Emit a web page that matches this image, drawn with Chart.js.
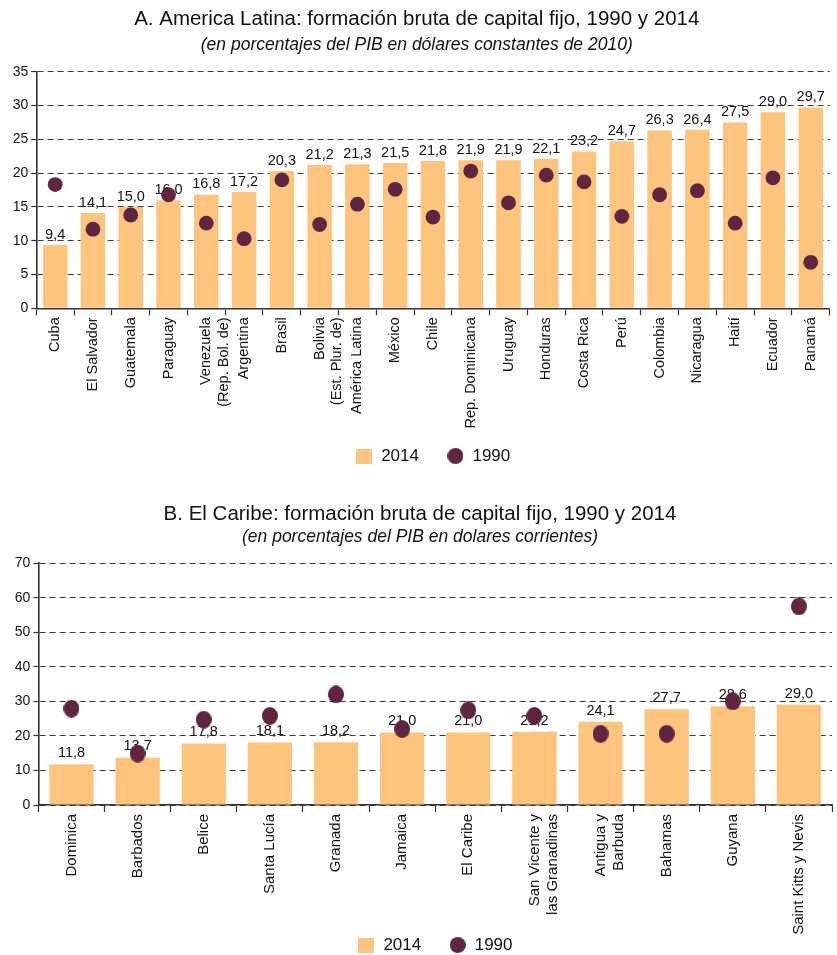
<!DOCTYPE html>
<html><head><meta charset="utf-8">
<script src="https://cdn.jsdelivr.net/npm/chart.js@4.4.1/dist/chart.umd.min.js"></script>
<style>
html,body{margin:0;padding:0;background:#fff;overflow:hidden;width:837px;height:955px;}
#wrapA{position:absolute;left:0;top:0;width:837px;height:480px;}
#wrapB{position:absolute;left:0;top:480px;width:841px;height:484px;}
canvas{display:block;}
</style></head><body>
<div id="wrapA"><canvas id="chartA" width="837" height="480"></canvas></div>
<div id="wrapB"><canvas id="chartB" width="841" height="484"></canvas></div>
<script>
// ---------- Data ----------
const latamCategories = ['Cuba','El Salvador','Guatemala','Paraguay',['Venezuela','(Rep. Bol. de)'],'Argentina','Brasil',['Bolivia','(Est. Plur. de)'],'América Latina','México','Chile','Rep. Dominicana','Uruguay','Honduras','Costa Rica','Perú','Colombia','Nicaragua','Haití','Ecuador','Panamá'];
const latam2014 = [9.4,14.1,15.0,16.0,16.8,17.2,20.3,21.2,21.3,21.5,21.8,21.9,21.9,22.1,23.2,24.7,26.3,26.4,27.5,29.0,29.7];
const latam1990 = [18.3,11.7,13.8,16.8,12.6,10.3,19.0,12.4,15.4,17.6,13.5,20.3,15.6,19.7,18.7,13.6,16.8,17.4,12.6,19.3,6.8];
const latamYTicks = [0,5,10,15,20,25,30,35];

const caribCategories = ['Dominica','Barbados','Belice','Santa Lucía','Granada','Jamaica','El Caribe',['San Vicente y','las Granadinas'],['Antigua y','Barbuda'],'Bahamas','Guyana','Saint Kitts y Nevis'];
const carib2014 = [11.8,13.7,17.8,18.1,18.2,21.0,21.0,21.2,24.1,27.7,28.6,29.0];
const carib1990 = [27.9,14.9,24.7,25.8,32.0,22.0,27.4,25.8,20.6,20.6,30.0,57.5];
const caribYTicks = [0,10,20,30,40,50,60,70];

const seriesNames = ['2014','1990'];

// ---------- Style ----------
const FONT = '"Liberation Sans", Arial, Helvetica, sans-serif';
const BAR_COLOR = '#FDC47D';
const DOT_COLOR = '#5F2541';
const TEXT = '#111111';
const AXIS = '#333333';

function fmt(v){ return v.toFixed(1).replace('.', ','); }

function ellipseImg(w,h,color){
  const c=document.createElement('canvas'); c.width=w; c.height=h;
  const x=c.getContext('2d'); x.fillStyle=color; x.beginPath();
  x.ellipse(w/2,h/2,w/2,h/2,0,0,Math.PI*2); x.fill(); return c;
}
function rectImg(w,h,color){
  const c=document.createElement('canvas'); c.width=w; c.height=h;
  const x=c.getContext('2d'); x.fillStyle=color; x.fillRect(0,0,w,h); return c;
}
const legendRect = rectImg(16,15,BAR_COLOR);
const legendDot = ellipseImg(16,16,DOT_COLOR);

const barLabels = {
  id:'barLabels',
  afterDatasetDraw(chart, args, opts){
    if (args.index !== 0) return;
    const ctx = chart.ctx;
    ctx.save();
    ctx.font = opts.size + 'px ' + FONT;
    ctx.fillStyle = TEXT;
    ctx.textAlign = 'center';
    ctx.textBaseline = 'bottom';
    const data = chart.data.datasets[0].data;
    args.meta.data.forEach((bar,i)=>{
      ctx.fillText(fmt(data[i]), bar.x, bar.y - opts.offset);
    });
    ctx.restore();
  }
};

function makeChart(id, cfg){
  const yTicks = cfg.yTicks;
  return new Chart(document.getElementById(id), {
    data: {
      labels: cfg.categories,
      datasets: [
        { type:'bar', label:seriesNames[0], data:cfg.bars, backgroundColor:BAR_COLOR,
          barPercentage:cfg.barPct, categoryPercentage:1, order:2 },
        { type:'line', label:seriesNames[1], data:cfg.dots, showLine:false,
          pointStyle:cfg.pointStyle, pointRadius:cfg.pointRadius, pointHoverRadius:cfg.pointRadius,
          pointBackgroundColor:DOT_COLOR, pointBorderWidth:0, order:1 }
      ]
    },
    plugins:[barLabels],
    options: {
      responsive:false, animation:false, events:[],
      layout:{ padding:{ left:0, right:cfg.padRight, top:0, bottom:cfg.padBottom } },
      plugins: {
        tooltip:{enabled:false},
        barLabels:{ size:14.5, offset:cfg.labelOffset },
        title:{ display:true, text:cfg.title, color:TEXT,
          font:{family:FONT, size:20.5, weight:'normal', lineHeight:1.15}, padding:{top:cfg.titleTop, bottom:cfg.titleBottom} },
        subtitle:{ display:true, text:cfg.subtitle, color:TEXT,
          font:{family:FONT, size:17.5, style:'italic', weight:'normal', lineHeight:1.15}, padding:{top:0, bottom:cfg.subBottom} },
        legend:{ display:true, position:'bottom', fullSize:false,
          labels:{ usePointStyle:true, color:TEXT, padding:28,
            font:{family:FONT, size:17},
            generateLabels(){ return [
              {text:seriesNames[0], pointStyle:legendRect, fillStyle:BAR_COLOR, strokeStyle:'rgba(0,0,0,0)', lineWidth:0, hidden:false, datasetIndex:0, fontColor:TEXT},
              {text:seriesNames[1], pointStyle:legendDot, fillStyle:DOT_COLOR, strokeStyle:'rgba(0,0,0,0)', lineWidth:0, hidden:false, datasetIndex:1, fontColor:TEXT}
            ]; } } }
      },
      scales: {
        x: {
          offset:true,
          grid:{ display:true, offset:true, drawOnChartArea:false, drawTicks:true, tickLength:7, tickColor:AXIS, tickWidth:1.2, color:AXIS },
          border:{ display:true, color:AXIS, width:1.6 },
          ticks:{ autoSkip:false, maxRotation:90, minRotation:90, padding:2, color:TEXT, font:{family:FONT, size:cfg.xFont} },
          afterFit(s){ s.height = cfg.xAxisH; s._computeLabelArea = function(){ return undefined; }; }
        },
        y: {
          min:yTicks[0], max:yTicks[yTicks.length-1],
          ticks:{ stepSize:yTicks[1]-yTicks[0], padding:3, color:TEXT, font:{family:FONT, size:14} },
          grid:{ display:true, drawOnChartArea:true, drawTicks:true, tickLength:5, color:'#3a3a3a', lineWidth:1, tickColor:AXIS, tickWidth:1.2, tickBorderDash:[] },
          border:{ display:true, color:AXIS, width:1.6, dash:[6,4] },
          afterFit(s){ s.width = cfg.yAxisW; }
        }
      }
    }
  });
}

makeChart('chartA', {
  categories: latamCategories, bars: latam2014, dots: latam1990, yTicks: latamYTicks,
  title:'A. America Latina: formación bruta de capital fijo, 1990 y 2014',
  subtitle:'(en porcentajes del PIB en dólares constantes de 2010)',
  barPct:0.65, pointStyle:'circle', pointRadius:7.4, labelOffset:3, xFont:14.5,
  padRight:3.5, padBottom:5.5, xAxisH:111.2, yAxisW:36.3,
  titleTop:8, titleBottom:3, subBottom:17
});

makeChart('chartB', {
  categories: caribCategories, bars: carib2014, dots: carib1990, yTicks: caribYTicks,
  title:'B. El Caribe: formación bruta de capital fijo, 1990 y 2014',
  subtitle:'(en porcentajes del PIB en dolares corrientes)',
  barPct:0.67, pointStyle:ellipseImg(16,18,DOT_COLOR), pointRadius:9, labelOffset:4, xFont:15,
  padRight:1, padBottom:0.5, xAxisH:103.5, yAxisW:38.4,
  titleTop:23, titleBottom:0.5, subBottom:16
});
</script>
</body></html>
